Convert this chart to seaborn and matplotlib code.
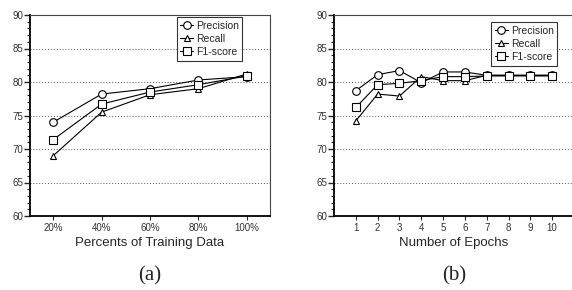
import numpy as np
import pandas as pd
import matplotlib
matplotlib.use("Agg")
import matplotlib.pyplot as plt
import seaborn as sns
from matplotlib.ticker import MultipleLocator

# ---- data ----
train_pcts = ["20%", "40%", "60%", "80%", "100%"]
prec_a = [74.0, 78.2, 79.0, 80.3, 80.8]
rec_a = [69.0, 75.5, 78.1, 79.0, 81.2]
f1_a = [71.4, 76.7, 78.5, 79.6, 80.9]

epochs = [1, 2, 3, 4, 5, 6, 7, 8, 9, 10]
prec_b = [78.7, 81.1, 81.7, 79.9, 81.5, 81.5, 81.0, 81.0, 81.0, 81.0]
rec_b = [74.2, 78.2, 77.9, 80.8, 80.2, 80.2, 81.0, 81.0, 81.0, 81.0]
f1_b = [76.2, 79.6, 79.8, 80.2, 80.8, 80.8, 80.9, 80.9, 80.9, 80.9]

metrics = ["Precision", "Recall", "F1-score"]

sns.set_theme(style="white")
plt.rcParams["font.family"] = ["Liberation Sans", "DejaVu Sans"]


def long_df(xs, series):
    rows = []
    for name, vals in zip(metrics, series):
        for x, v in zip(xs, vals):
            rows.append({"x": x, "score": v, "metric": name})
    return pd.DataFrame(rows)


df_a = long_df(range(len(train_pcts)), [prec_a, rec_a, f1_a])
df_b = long_df(epochs, [prec_b, rec_b, f1_b])

fig = plt.figure(figsize=(5.72, 2.9), dpi=100)
ax_a = fig.add_axes([30 / 572, 1 - 216 / 290, 240 / 572, 201 / 290])
ax_b = fig.add_axes([334 / 572, 1 - 216 / 290, 240 / 572, 201 / 290])

markers = {"Precision": "o", "Recall": "^", "F1-score": "s"}
sizes = {"Precision": 5.5, "Recall": 4.5, "F1-score": 5.5}


def draw(ax, df, xlim, xticks, xticklabels, xlabel, tag, legend_anchor):
    for m in metrics:
        sub = df[df["metric"] == m]
        sns.lineplot(data=sub, x="x", y="score", ax=ax, color="black",
                     lw=0.8, marker=markers[m], markersize=sizes[m],
                     markerfacecolor="white", markeredgecolor="black",
                     markeredgewidth=0.8, label=m)
    ax.set_ylim(60, 90)
    ax.set_xlim(*xlim)
    ax.yaxis.set_major_locator(MultipleLocator(5))
    ax.yaxis.set_minor_locator(MultipleLocator(1))
    ax.set_xticks(xticks)
    ax.set_xticklabels(xticklabels)
    for y in [65, 70, 75, 80, 85]:
        ax.axhline(y, color="#555555", lw=0.7, ls=(0, (1, 2)), zorder=0)
    ax.tick_params(axis="y", which="major", direction="out", length=4,
                   width=1, labelsize=7, pad=1, left=True, labelcolor="#333333")
    ax.tick_params(axis="y", which="minor", direction="out", length=2,
                   width=0.8, left=True)
    ax.tick_params(axis="x", direction="out", length=3, width=0.8,
                   labelsize=7, pad=2, bottom=True, labelcolor="#333333")
    for s in ["left", "bottom"]:
        ax.spines[s].set_linewidth(1.3)
        ax.spines[s].set_color("black")
    for s in ["top", "right"]:
        ax.spines[s].set_linewidth(0.8)
        ax.spines[s].set_color("#444444")
    ax.set_xlabel(xlabel, fontsize=9.5, labelpad=3)
    ax.set_ylabel("")
    leg = ax.legend(loc="upper right", bbox_to_anchor=legend_anchor,
                    fontsize=7.5, frameon=True, fancybox=False,
                    edgecolor="black", handlelength=1.2, handletextpad=0.3,
                    borderpad=0.35, labelspacing=0.3, borderaxespad=0)
    leg.get_frame().set_linewidth(0.8)
    pos = ax.get_position()
    fig.text((pos.x0 + pos.x1) / 2, 1 - 276 / 290, tag, ha="center",
             va="center", fontsize=15,
             family=["Liberation Serif", "DejaVu Serif"])


draw(ax_a, df_a, (-0.48, 4.48), list(range(len(train_pcts))), train_pcts,
     "Percents of Training Data", "(a)", (0.885, 0.99))
draw(ax_b, df_b, (0, 11), epochs, [str(e) for e in epochs],
     "Number of Epochs", "(b)", (0.93, 0.965))

fig.savefig("out.png", dpi=100)
